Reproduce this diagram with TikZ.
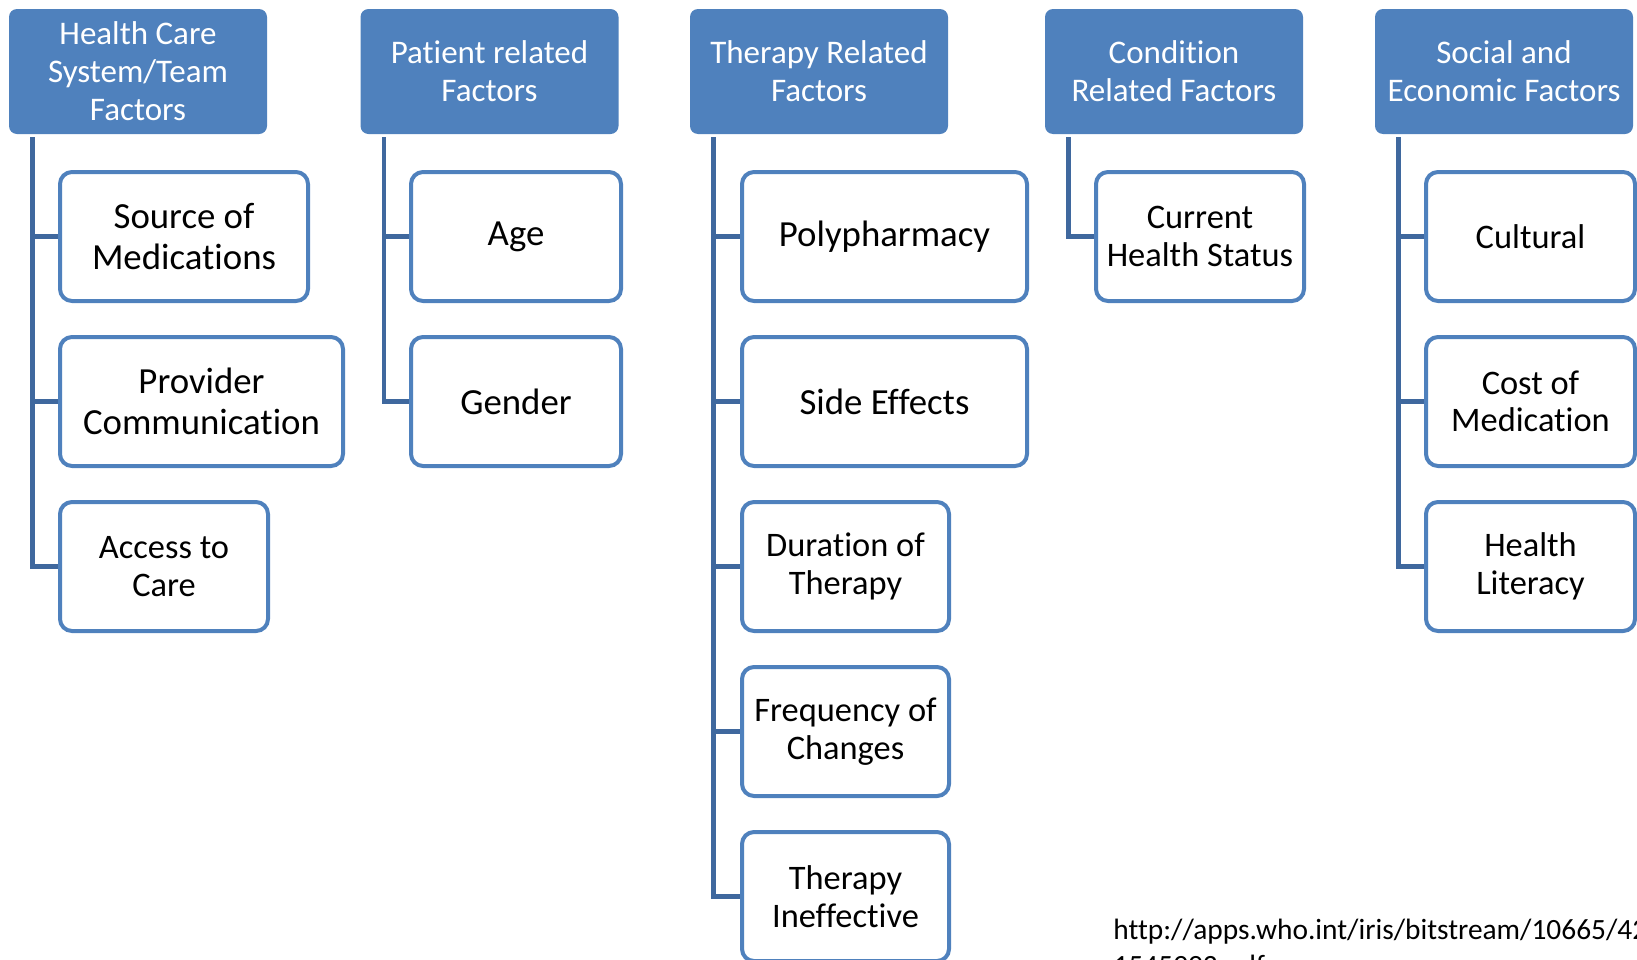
\documentclass[tikz,border=0pt]{standalone}
\usepackage{fontspec}
\setmainfont{Carlito}[Ligatures=NoCommon]
\usepackage{tikz}
\usetikzlibrary{calc}

\definecolor{hdblue}{RGB}{79,129,189}
\definecolor{lnblue}{RGB}{63,104,158}

\tikzset{
  head/.style={fill=hdblue, text=white, rounded corners=4pt, align=center,
    minimum width=129pt, minimum height=62.5pt, inner sep=0pt,
    font=\fontsize{16.5}{19}\selectfont},
  item/.style={draw=hdblue, line width=2pt, fill=white, rounded corners=6pt,
    align=center, minimum height=64.5pt, inner sep=0pt,
    font=\fontsize{17.2}{18.8}\selectfont},
  bigitem/.style={item, font=\fontsize{18.4}{20.3}\selectfont},
  conn/.style={draw=lnblue, line width=2.3pt},
}

\begin{document}
\begin{tikzpicture}[x=0.5pt, y=-0.5pt]
        \useasboundingbox (0,0) rectangle (1637,959);
        \clip (0,0) rectangle (1637,959);

        % headers
        \node[head] (h1) at (138,71.5) {Health Care\\System/Team\\Factors};
        \node[head] (h2) at (489.5,71.5) {Patient related\\Factors};
        \node[head] (h3) at (819,71.5) {Therapy Related\\Factors};
        \node[head] (h4) at (1174,71.5) {Condition\\Related Factors};
        \node[head] (h5) at (1504,71.5) {Social and\\Economic Factors};

        % health care system
        \node[bigitem, minimum width=124pt] (c11) at (184,236.5) {Source of\\Medications};
        \node[bigitem, minimum width=141.5pt] (c12) at (201.5,401.5) {Provider\\Communication};
        \node[item, minimum width=104pt] (c13) at (164,566.5) {Access to\\Care};

        % patient
        \node[bigitem, minimum width=105pt] (c21) at (516,236.5) {Age};
        \node[bigitem, minimum width=105pt] (c22) at (516,401.5) {Gender};

        % therapy
        \node[bigitem, minimum width=142.5pt] (c31) at (884.5,236.5) {Polypharmacy};
        \node[bigitem, minimum width=142.5pt] (c32) at (884.5,401.5) {Side Effects};
        \node[item, minimum width=103.5pt] (c33) at (845.5,566.5) {Duration of\\Therapy};
        \node[item, minimum width=103.5pt] (c34) at (845.5,731.5) {Frequency of\\Changes};
        \node[item, minimum width=103.5pt] (c35) at (845.5,896.5) {Therapy\\Ineffective};

        % condition
        \node[item, minimum width=104pt] (c41) at (1200,236.5) {Current\\Health Status};

        % social and economic
        \node[item, minimum width=104.5pt] (c51) at (1530.5,236.5) {Cultural};
        \node[item, minimum width=104.5pt] (c52) at (1530.5,401.5) {Cost of\\Medication};
        \node[item, minimum width=104.5pt] (c53) at (1530.5,566.5) {Health\\Literacy};

        % connectors
        \coordinate (v1) at ([xshift=12pt,yshift=-1.5pt]h1.south west);
        \coordinate (v2) at ([xshift=12pt,yshift=-1.5pt]h2.south west);
        \coordinate (v3) at ([xshift=12pt,yshift=-1.5pt]h3.south west);
        \coordinate (v4) at ([xshift=12pt,yshift=-1.5pt]h4.south west);
        \coordinate (v5) at ([xshift=12pt,yshift=-1.5pt]h5.south west);

        \draw[conn] (v1) |- (c13.west);
        \draw[conn] (v1 |- c11.west) -- (c11.west);
        \draw[conn] (v1 |- c12.west) -- (c12.west);

        \draw[conn] (v2) |- (c22.west);
        \draw[conn] (v2 |- c21.west) -- (c21.west);

        \draw[conn] (v3) |- (c35.west);
        \draw[conn] (v3 |- c31.west) -- (c31.west);
        \draw[conn] (v3 |- c32.west) -- (c32.west);
        \draw[conn] (v3 |- c33.west) -- (c33.west);
        \draw[conn] (v3 |- c34.west) -- (c34.west);

        \draw[conn] (v4) |- (c41.west);

        \draw[conn] (v5) |- (c53.west);
        \draw[conn] (v5 |- c51.west) -- (c51.west);
        \draw[conn] (v5 |- c52.west) -- (c52.west);

        % source
        \node[anchor=base west, align=left, inner sep=0pt,
          font=\fontsize{14.7}{17.8}\selectfont] (src) at (1113,975)
          {http://apps.who.int/iris/bitstream/10665/42682/1/924\\1545992.pdf};
    \end{tikzpicture}
\end{document}
